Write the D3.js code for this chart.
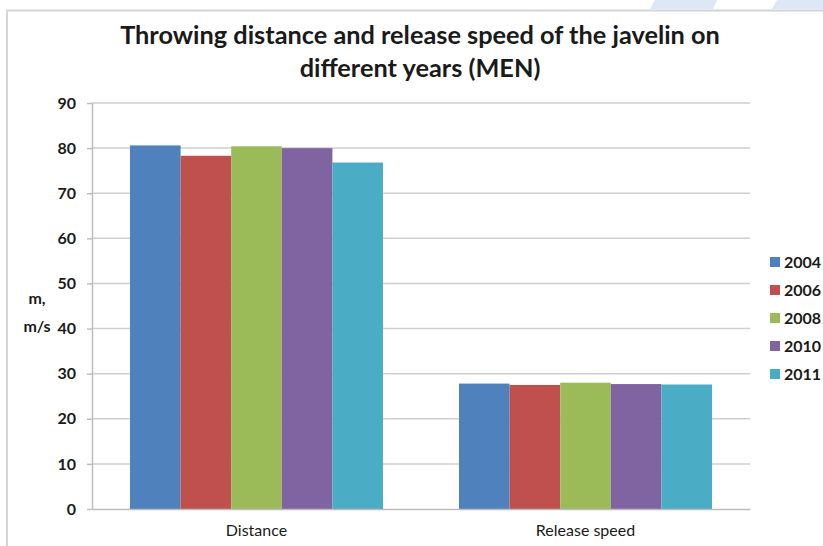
<!DOCTYPE html>
<html>
<head>
<meta charset="utf-8">
<script src="https://cdn.jsdelivr.net/npm/d3@7"></script>
<style>
  html, body { margin: 0; padding: 0; background: #fff; }
  svg { display: block; font-family: Lato, "Open Sans", sans-serif; }
</style>
</head>
<body>
<svg id="chart" width="823" height="546"></svg>
<script>
// Javelin (men): throwing distance (m) and release speed (m/s) by year
const categories = ["Distance", "Release speed"];
const years = ["2004", "2006", "2008", "2010", "2011"];
const values2004 = [80.6, 27.8];
const values2006 = [78.3, 27.5];
const values2008 = [80.4, 28.0];
const values2010 = [80.0, 27.7];
const values2011 = [76.8, 27.6];
const yTicks = [0, 10, 20, 30, 40, 50, 60, 70, 80, 90];
const titleLines = ["Throwing distance and release speed of the javelin on", "different years (MEN)"];
const yLabelLines = ["m,", "m/s"];

const seriesValues = [values2004, values2006, values2008, values2010, values2011];
const colors = ["#4F81BD", "#C0504D", "#9BBB59", "#8064A2", "#4BACC6"];

const svg = d3.select("#chart");

// decorative slanted tabs above the frame
const deco = [[[650, 9], [655, 0], [717, 0], [713, 9]], [[772, 9], [777, 0], [823, 0], [823, 9]]];
svg.selectAll("polygon.deco").data(deco).join("polygon")
  .attr("class", "deco")
  .attr("points", d => d.map(p => p.join(",")).join(" "))
  .attr("fill", "#dce8f8");

// chart frame (open on the right and bottom)
svg.append("path")
  .attr("d", "M7,546 V10.5 H823")
  .attr("fill", "none")
  .attr("stroke", "#d4d4d4")
  .attr("stroke-width", 2);

const plot = { left: 92, right: 750, top: 103, bottom: 509 };

const y = d3.scaleLinear().domain([0, 90]).range([plot.bottom, plot.top]);
const x0 = d3.scaleBand().domain(categories)
  .range([plot.left, plot.right])
  .paddingInner(0.231).paddingOuter(0.1155);
const x1 = d3.scaleBand().domain(years).range([0, x0.bandwidth()]);

// gridlines
svg.append("g").selectAll("line").data(yTicks.filter(t => t > 0)).join("line")
  .attr("x1", plot.left).attr("x2", plot.right)
  .attr("y1", d => y(d)).attr("y2", d => y(d))
  .attr("stroke", "#cfcfcf").attr("stroke-width", 1.5);

// y axis
const yAxis = svg.append("g")
  .attr("transform", `translate(${plot.left},0)`)
  .call(d3.axisLeft(y).tickValues(yTicks).tickSize(5).tickPadding(11).tickSizeOuter(0));
yAxis.select(".domain").attr("stroke", "#bdbdbd").attr("stroke-width", 1.5);
yAxis.selectAll(".tick line").attr("stroke", "#bdbdbd").attr("stroke-width", 1.5);
yAxis.selectAll(".tick text")
  .attr("fill", "#1a1a1a")
  .style("font-family", "Lato, sans-serif")
  .style("font-size", "16px").style("font-weight", "bold");

// bars
const groups = svg.append("g").selectAll("g").data(categories).join("g")
  .attr("transform", c => `translate(${x0(c)},0)`);
groups.selectAll("rect")
  .data((c, ci) => years.map((yr, si) => ({ yr, si, v: seriesValues[si][ci] })))
  .join("rect")
  .attr("x", d => x1(d.yr))
  .attr("width", x1.bandwidth())
  .attr("y", d => y(d.v))
  .attr("height", d => y(0) - y(d.v))
  .attr("fill", d => colors[d.si]);

// x axis
const xAxis = svg.append("g")
  .attr("transform", `translate(0,${plot.bottom})`)
  .call(d3.axisBottom(x0).tickSize(0).tickPadding(16).tickSizeOuter(0));
xAxis.select(".domain").attr("stroke", "#bdbdbd").attr("stroke-width", 1.5);
xAxis.selectAll(".tick text")
  .attr("fill", "#1a1a1a")
  .style("font-family", "Lato, sans-serif")
  .style("font-size", "16px");

// y axis title
svg.append("text")
  .attr("text-anchor", "middle")
  .attr("fill", "#1a1a1a")
  .style("font-size", "16px").style("font-weight", "bold")
  .selectAll("tspan").data(yLabelLines).join("tspan")
  .attr("x", 37).attr("y", (d, i) => 304 + i * 28)
  .text(d => d);

// title, sized so the first line spans the chart width
const title = svg.append("text")
  .attr("text-anchor", "middle")
  .attr("fill", "#1a1a1a")
  .style("font-weight", "bold")
  .style("font-size", "22px");
title.selectAll("tspan").data(titleLines).join("tspan")
  .attr("x", 420).attr("y", (d, i) => 44 + i * 33)
  .text(d => d);
const w = title.select("tspan").node().getComputedTextLength();
title.style("font-size", (22 * 600 / w).toFixed(2) + "px");

// legend
const legend = svg.append("g").selectAll("g").data(years).join("g")
  .attr("transform", (d, i) => `translate(770,${262 + i * 28})`);
legend.append("rect")
  .attr("x", 0).attr("y", -5).attr("width", 10).attr("height", 10)
  .attr("fill", (d, i) => colors[i]);
legend.append("text")
  .attr("x", 14).attr("y", 6)
  .attr("fill", "#1a1a1a")
  .style("font-size", "16px").style("font-weight", "bold")
  .text(d => d);
</script>
</body>
</html>
